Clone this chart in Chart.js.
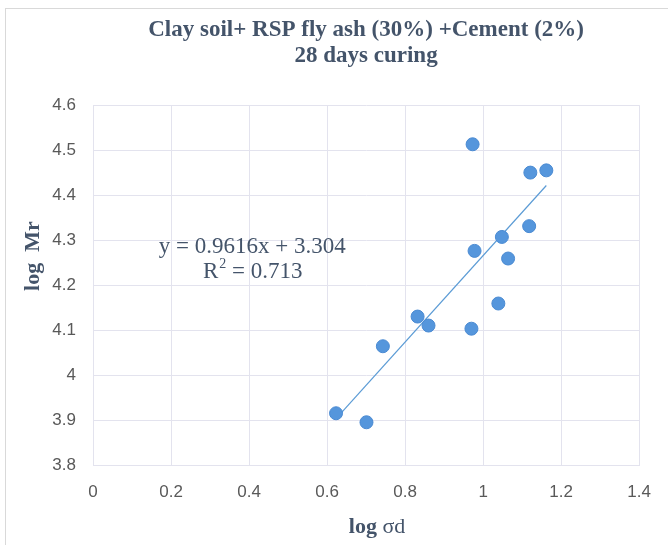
<!DOCTYPE html>
<html>
<head>
<meta charset="utf-8">
<script src="https://cdn.jsdelivr.net/npm/chart.js@4"></script>
<style>
  body { margin: 0; background: #fff; }
  #wrap { width: 668px; height: 545px; }
</style>
</head>
<body>
<div id="wrap"><canvas id="myChart" width="668" height="545"></canvas></div>
<script>
// values
const logSd = [0.973, 1.121, 1.162, 1.118, 1.048, 0.978, 1.064, 1.039, 0.832, 0.860, 0.970, 0.743, 0.623, 0.701];
const logMr = [4.513, 4.450, 4.455, 4.331, 4.307, 4.276, 4.259, 4.159, 4.130, 4.110, 4.103, 4.064, 3.915, 3.895];
const slope = 0.9616;
const intercept = 3.304;
const trendX = [0.623, 1.162];
const titleLines = ["Clay soil+ RSP fly ash (30%) +Cement (2%)", "28 days curing"];
const eqText = "y = 0.9616x + 3.304";
const r2Text = "0.713";

const pts = logSd.map((x, i) => ({ x: x, y: logMr[i] }));
const trend = trendX.map(x => ({ x: x, y: slope * x + intercept }));

const serif = "'Liberation Serif', 'DejaVu Serif', serif";
const tickFont = "'Liberation Sans Narrow', 'Liberation Sans', sans-serif";
const gridColor = "#e3e3ee";

// border, axis titles and the regression text
const extras = {
  id: "extras",
  beforeDraw(chart) {
    const ctx = chart.ctx;
    ctx.save();
    ctx.strokeStyle = "#d9d9d9";
    ctx.lineWidth = 1;
    ctx.strokeRect(5.5, 8.5, 700, 600);
    ctx.restore();
  },
  afterDraw(chart) {
    const ctx = chart.ctx;
    const a = chart.chartArea;
    const xs = chart.scales.x, ys = chart.scales.y;
    ctx.save();
    ctx.fillStyle = "#44546a";
    ctx.textBaseline = "middle";

    // y title
    ctx.save();
    ctx.translate(33, (a.top + a.bottom) / 2 - 29);
    ctx.rotate(-Math.PI / 2);
    ctx.textAlign = "center";
    ctx.font = "bold 22px " + serif;
    ctx.fillText("log  Mr", 0, 0);
    ctx.restore();

    // x title: "log" bold, "σd" regular
    const cx = (a.left + a.right) / 2 + 11, cy = a.bottom + 62;
    ctx.font = "bold 22px " + serif;
    const w1 = ctx.measureText("log ").width;
    ctx.font = "22px " + serif;
    const w2 = ctx.measureText("σd").width;
    let x0 = cx - (w1 + w2) / 2;
    ctx.textAlign = "left";
    ctx.font = "bold 22px " + serif;
    ctx.fillText("log ", x0, cy);
    ctx.font = "22px " + serif;
    ctx.fillText("σd", x0 + w1, cy);

    // equation
    ctx.textAlign = "center";
    ctx.font = "23px " + serif;
    const ex = xs.getPixelForValue(0.408);
    ctx.fillText(eqText, ex, ys.getPixelForValue(4.284));
    // R² line with a raised 2
    const ry = ys.getPixelForValue(4.229);
    const pR = "R", pRest = " = " + r2Text;
    const wR = ctx.measureText(pR).width, wRest = ctx.measureText(pRest).width;
    ctx.font = "14px " + serif;
    const w2s = ctx.measureText("2").width;
    let rx = ex - (wR + w2s + wRest) / 2;
    ctx.textAlign = "left";
    ctx.font = "23px " + serif;
    ctx.fillText(pR, rx, ry);
    ctx.font = "14px " + serif;
    ctx.fillText("2", rx + wR + 1, ry - 8);
    ctx.font = "23px " + serif;
    ctx.fillText(pRest, rx + wR + w2s + 1, ry);
    ctx.restore();
  }
};

new Chart(document.getElementById("myChart"), {
  type: "scatter",
  data: {
    datasets: [
      {
        label: "data",
        data: pts,
        backgroundColor: "#5596dc",
        borderColor: "#4a8ad2",
        borderWidth: 1,
        pointRadius: 6.5,
        order: 1
      },
      {
        label: "trend",
        type: "line",
        data: trend,
        borderColor: "#5b9bd5",
        borderWidth: 1.2,
        pointRadius: 0,
        fill: false,
        order: 2
      }
    ]
  },
  options: {
    responsive: false,
    animation: false,
    layout: { padding: { left: 0, right: 27, top: 0, bottom: 0 } },
    plugins: {
      legend: { display: false },
      tooltip: { enabled: false },
      title: {
        display: true,
        fullSize: false,
        text: titleLines,
        color: "#44546a",
        font: { family: serif, size: 23, weight: "bold", lineHeight: 1.09 },
        padding: { top: 18, bottom: 37 }
      }
    },
    scales: {
      x: {
        type: "linear",
        min: 0,
        max: 1.4,
        afterFit(scale) { scale.height = 80; },
        ticks: {
          stepSize: 0.2,
          padding: 17,
          color: "#595959",
          font: { family: tickFont, size: 17 },
          callback: v => Math.round(v * 10) / 10
        },
        grid: { color: gridColor, drawTicks: false },
        border: { color: gridColor }
      },
      y: {
        min: 3.8,
        max: 4.6,
        afterFit(scale) { scale.width = 93; },
        ticks: {
          stepSize: 0.1,
          padding: 17,
          color: "#595959",
          font: { family: tickFont, size: 17 },
          callback: v => Math.round(v * 10) / 10
        },
        grid: { color: gridColor, drawTicks: false },
        border: { color: gridColor }
      }
    }
  }
  ,
  plugins: [extras]
});
</script>
</body>
</html>
